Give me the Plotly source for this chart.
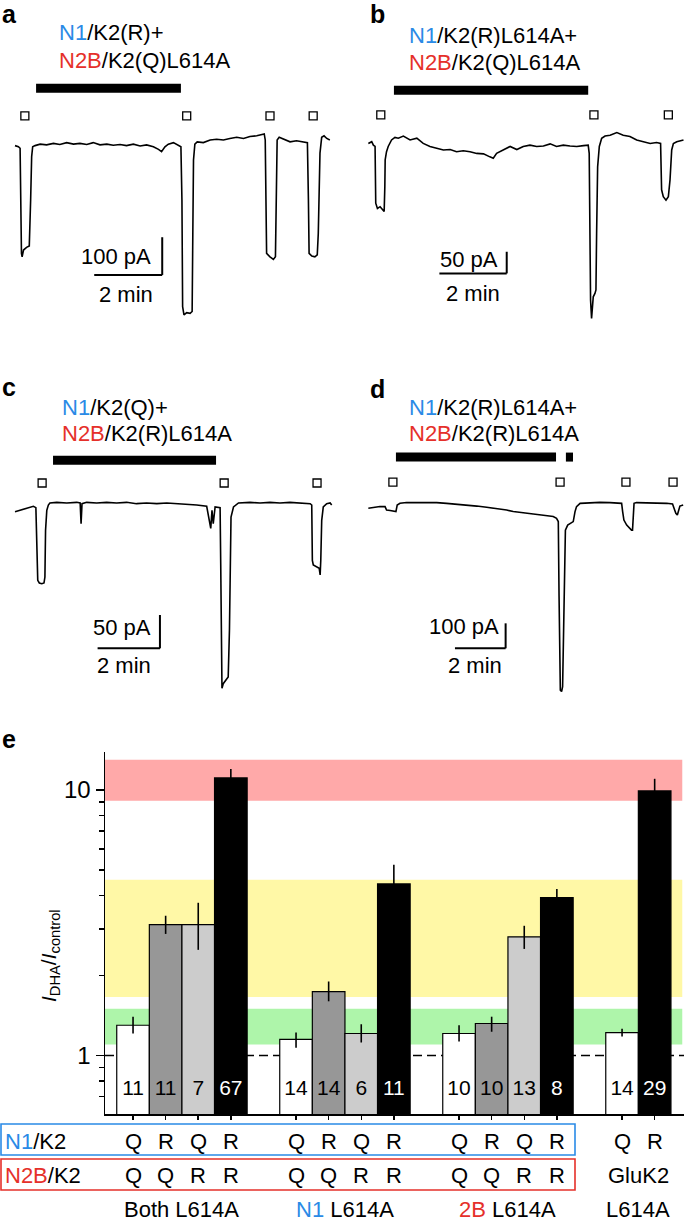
import math
import plotly.graph_objects as go

W, H = 685, 1222
FONT = "Liberation Sans, Arial, Helvetica, sans-serif"
BLUE = "#2a8ae6"
RED = "#e5302a"

# ---------------- Panel a (time in min, current in pA) ----------------
a_t = [0.00, 0.10, 0.15, 0.17, 0.19, 0.21, 0.25, 0.34, 0.42, 0.46,
       0.49, 0.52, 0.59, 0.74, 0.93, 1.13, 1.32, 1.52, 1.72, 1.91,
       2.11, 2.30, 2.50, 2.70, 2.89, 3.09, 3.28, 3.48, 3.68, 3.87,
       4.07, 4.22, 4.31, 4.41, 4.51, 4.66, 4.80, 4.88, 4.91, 4.93,
       4.97, 5.05, 5.15, 5.21, 5.23, 5.25, 5.29, 5.36, 5.54, 5.74,
       5.93, 6.13, 6.32, 6.52, 6.72, 6.91, 7.11, 7.25, 7.33, 7.36,
       7.38, 7.40, 7.50, 7.60, 7.66, 7.68, 7.71, 7.77, 7.89, 8.09,
       8.28, 8.48, 8.60, 8.63, 8.65, 8.73, 8.82, 8.89, 8.92, 8.97,
       9.02, 9.09, 9.17, 9.26]
a_i = [1, -2, -6, -232, -285, -294, -276, -269, -265, -143,
       -28, -2, 1, 5, 3, 7, 4, 9, 5, 7,
       4, 9, 3, 5, 2, 4, 1, 5, 0, 3,
       -2, -9, -15, -2, 5, 9, 3, -2, -143, -426,
       -448, -442, -444, -439, -232, -37, 5, 11, 9, 16,
       18, 16, 20, 23, 20, 25, 27, 29, 32, 16,
       -232, -285, -294, -301, -294, -143, 16, 23, 18, 11,
       14, 11, 9, -143, -285, -292, -294, -289, -232, -19,
       23, 27, 20, 16]
a_puffs = [0.29, 5.05, 7.50, 8.77]
a_drug = [(0.62, 4.88)]

# ---------------- Panel b ----------------
b_t = [0.01, 0.11, 0.16, 0.21, 0.23, 0.28, 0.36, 0.44, 0.48, 0.50,
       0.51, 0.55, 0.60, 0.70, 0.80, 0.90, 1.05, 1.25, 1.45, 1.64,
       1.84, 2.04, 2.24, 2.44, 2.63, 2.83, 3.03, 3.23, 3.43, 3.62,
       3.72, 3.82, 4.02, 4.22, 4.42, 4.61, 4.81, 5.01, 5.21, 5.41,
       5.60, 5.80, 6.00, 6.20, 6.40, 6.54, 6.57, 6.59, 6.61, 6.64,
       6.66, 6.69, 6.74, 6.77, 6.79, 6.82, 6.87, 6.94, 7.04, 7.19,
       7.39, 7.58, 7.78, 7.98, 8.18, 8.38, 8.57, 8.69, 8.72, 8.77,
       8.85, 8.92, 8.97, 9.02, 9.07, 9.17, 9.37]
b_i = [-1, 3, -5, -8, -139, -151, -147, -153, -158, -101,
       -39, -20, -8, 7, 13, 11, 16, 7, 11, -1,
       -8, -12, -16, -15, -20, -18, -20, -24, -25, -32,
       -35, -24, -16, -8, -15, -8, -5, -8, -7, -2,
       -8, -5, -7, -8, -6, -5, -24, -208, -362, -405,
       -385, -355, -347, -339, -208, -55, -8, 11, 16, 18,
       24, 18, 15, 7, 3, -1, 1, -1, -108, -124,
       -132, -124, -85, -16, -1, 3, 7]
b_puffs = [0.38, 6.71, 8.92]
b_drug = [(0.77, 6.54)]

# ---------------- Panel c ----------------
c_t = [0.00, 0.16, 0.32, 0.48, 0.59, 0.67, 0.70, 0.73, 0.78, 0.86,
       0.93, 0.96, 0.98, 1.02, 1.07, 1.12, 1.34, 1.66, 1.98, 2.09,
       2.12, 2.15, 2.30, 2.62, 2.94, 3.26, 3.58, 3.90, 4.22, 4.55,
       4.87, 5.19, 5.51, 5.83, 6.15, 6.24, 6.28, 6.32, 6.36, 6.42,
       6.52, 6.58, 6.60, 6.62, 6.64, 6.68, 6.77, 6.84, 6.88, 6.90,
       6.93, 7.01, 7.17, 7.54, 7.86, 8.18, 8.50, 8.82, 9.14, 9.47,
       9.52, 9.54, 9.57, 9.68, 9.76, 9.79, 9.81, 9.84, 9.89, 10.00,
       10.11, 10.16]
c_i = [-10, -8, -5, -3, -2, -4, -88, -113, -117, -118,
       -117, -108, -38, -8, 0, 3, 4, 3, 4, 3,
       -28, 2, 4, 3, 4, 3, 4, 2, 3, 2,
       3, 2, 2, 0, -2, -23, -35, -8, -28, -3,
       -4, -4, -88, -238, -275, -268, -263, -258, -188, -63,
       -18, -3, 3, 4, 3, 4, 3, 4, 3, 2,
       0, -83, -90, -93, -95, -105, -83, -23, -3, 2,
       3, 0]
c_puffs = [0.87, 6.71, 9.69]
c_drug = [(1.22, 6.45)]

# ---------------- Panel d ----------------
d_t = [0.00, 0.20, 0.46, 0.66, 0.72, 0.86, 0.99, 1.09, 1.14, 1.25,
       1.51, 1.91, 2.30, 2.70, 3.09, 3.49, 3.88, 4.28, 4.67, 5.07,
       5.46, 5.72, 6.12, 6.51, 6.91, 7.30, 7.43, 7.50, 7.53, 7.55,
       7.58, 7.63, 7.67, 7.71, 7.74, 7.78, 7.87, 7.96, 8.09, 8.16,
       8.22, 8.36, 8.75, 9.14, 9.54, 9.93, 10.00, 10.04, 10.09, 10.20,
       10.30, 10.39, 10.43, 10.46, 10.49, 10.59, 10.99, 11.38, 11.78, 12.01,
       12.07, 12.14, 12.20, 12.25, 12.30, 12.43]
d_i = [-20, -16, -13, -13, -27, -29, -33, -33, -7, 0,
       3, 4, 3, 3, 0, -3, -7, -11, -16, -21,
       -27, -33, -37, -43, -48, -53, -60, -73, -373, -640,
       -747, -753, -733, -507, -240, -107, -87, -80, -73, -33,
       -13, 0, 3, 4, 3, 3, 0, -33, -67, -87,
       -100, -107, -107, -27, 0, 3, 3, 3, 0, -3,
       -20, -40, -47, -27, -11, -7]
d_puffs = [0.97, 7.57, 10.17, 12.03]
d_drug = [(1.09, 7.41), (7.80, 8.08)]

# ---------------- Panel e (bar chart) ----------------
e_values = [1.30, 3.11, 3.11, 11.1, 1.15, 1.74, 1.21, 4.43, 1.21, 1.32, 2.80, 3.93, 1.22, 9.92]
e_err_plus = [0.10, 0.25, 0.65, 0.9, 0.07, 0.16, 0.10, 0.80, 0.09, 0.08, 0.28, 0.31, 0.04, 1.1]
e_err_minus = [0.09, 0.24, 0.61, 0.85, 0.08, 0.14, 0.09, 0.7, 0.08, 0.09, 0.28, 0.30, 0.04, 1.0]
e_n = [11, 11, 7, 67, 14, 14, 6, 11, 10, 10, 13, 8, 14, 29]
e_n1_row = ["Q", "R", "Q", "R", "Q", "R", "Q", "R", "Q", "R", "Q", "R", "Q", "R"]
e_n2b_row = ["Q", "Q", "R", "R", "Q", "Q", "R", "R", "Q", "Q", "R", "R"]
e_groups = ["Both L614A",
            '<span style="color:%s">N1</span> L614A' % BLUE,
            '<span style="color:%s">2B</span> L614A' % RED]
e_group_sizes = [4, 4, 4, 2]
e_bands = [(9.1, 13.0, "#ffa9a9"), (1.66, 4.59, "#fff8a6"), (1.10, 1.50, "#aef5aa")]
FILL_BY_SLOT = ["white", "#979797", "#cccccc", "black"]


def X(px):
    return px / W


def Y(py):
    return 1 - py / H


fig = go.Figure()
shapes = []
annotations = []
axes = {}

panels = [
    dict(s="", t=a_t, i=a_i, puffs=a_puffs, puff_level=80, drug=a_drug, drug_level=153,
         dom_x=(0, 340), dom_y=(0, 340), x0=15, ppm=34.0, y0=146, ppa=0.377,
         sb_t=4.33, sb_i=-342, amp=100, amp_lbl=(4.05, -292), dur_lbl=(3.25, -395), amp_txt="100 pA"),
    dict(s="2", t=b_t, i=b_i, puffs=b_puffs, puff_level=65, drug=b_drug, drug_level=122,
         dom_x=(340, 685), dom_y=(0, 340), x0=368, ppm=33.67, y0=143, ppa=0.4333,
         sb_t=4.12, sb_i=-301, amp=50, amp_lbl=(3.92, -268), dur_lbl=(3.13, -347), amp_txt="50 pA"),
    dict(s="3", t=c_t, i=c_i, puffs=c_puffs, puff_level=33, drug=c_drug, drug_level=67,
         dom_x=(0, 340), dom_y=(340, 700), x0=15, ppm=31.17, y0=505, ppa=0.6667,
         sb_t=4.65, sb_i=-215, amp=50, amp_lbl=(4.42, -183), dur_lbl=(3.50, -240), amp_txt="50 pA"),
    dict(s="4", t=d_t, i=d_i, puffs=d_puffs, puff_level=85, drug=d_drug, drug_level=185,
         dom_x=(340, 685), dom_y=(340, 700), x0=368.33, ppm=25.33, y0=503.33, ppa=0.25,
         sb_t=5.42, sb_i=-580, amp=100, amp_lbl=(5.22, -493), dur_lbl=(4.20, -647), amp_txt="100 pA"),
]

for p in panels:
    s = p["s"]
    xn, yn = "x" + s, "y" + s
    (dx0, dx1), (dy0, dy1) = p["dom_x"], p["dom_y"]
    axes["xaxis" + s] = dict(domain=[X(dx0), X(dx1)],
                             range=[(dx0 - p["x0"]) / p["ppm"], (dx1 - p["x0"]) / p["ppm"]],
                             visible=False, fixedrange=True, anchor=yn)
    axes["yaxis" + s] = dict(domain=[Y(dy1), Y(dy0)],
                             range=[(p["y0"] - dy1) / p["ppa"], (p["y0"] - dy0) / p["ppa"]],
                             visible=False, fixedrange=True, anchor=xn)
    fig.add_trace(go.Scatter(x=p["t"], y=p["i"], mode="lines",
                             line=dict(color="black", width=1.6),
                             xaxis=xn, yaxis=yn, hoverinfo="skip"))
    fig.add_trace(go.Scatter(x=p["puffs"], y=[p["puff_level"]] * len(p["puffs"]), mode="markers",
                             marker=dict(symbol="square-open", size=8, color="black",
                                         line=dict(width=1.3, color="black")),
                             xaxis=xn, yaxis=yn, hoverinfo="skip"))
    for (t0, t1) in p["drug"]:
        shapes.append(dict(type="line", xref=xn, yref=yn, x0=t0, x1=t1,
                           y0=p["drug_level"], y1=p["drug_level"],
                           line=dict(color="black", width=9)))
    # scale bars: 2 min horizontal, amp pA vertical
    shapes.append(dict(type="line", xref=xn, yref=yn, x0=p["sb_t"], x1=p["sb_t"],
                       y0=p["sb_i"], y1=p["sb_i"] + p["amp"], line=dict(color="black", width=2)))
    shapes.append(dict(type="line", xref=xn, yref=yn, x0=p["sb_t"] - 2, x1=p["sb_t"],
                       y0=p["sb_i"], y1=p["sb_i"], line=dict(color="black", width=2)))
    annotations.append(dict(xref=xn, yref=yn, x=p["amp_lbl"][0], y=p["amp_lbl"][1],
                            text=p["amp_txt"], showarrow=False, xanchor="right", yanchor="middle",
                            align="right", font=dict(size=22, color="black", family=FONT)))
    annotations.append(dict(xref=xn, yref=yn, x=p["dur_lbl"][0], y=p["dur_lbl"][1],
                            text="2 min", showarrow=False, xanchor="center", yanchor="middle",
                            font=dict(size=22, color="black", family=FONT)))

# panel letters and titles
letters = [("a", 0, 14), ("b", 368, 14), ("c", 0, 387), ("d", 368, 389), ("e", 0, 739)]
for txt, lx, ly in letters:
    annotations.append(dict(xref="paper", yref="paper", x=X(lx), y=Y(ly), text="<b>%s</b>" % txt,
                            showarrow=False, xanchor="left", yanchor="middle", align="left",
                            font=dict(size=25, color="black", family=FONT)))

titles = [
    (57, 33, 61, "K2(R)+", "K2(Q)L614A"),
    (407, 35, 62, "K2(R)L614A+", "K2(Q)L614A"),
    (60, 407, 433, "K2(Q)+", "K2(R)L614A"),
    (407, 407, 433, "K2(R)L614A+", "K2(R)L614A"),
]
for tx, ty1, ty2, l1, l2 in titles:
    annotations.append(dict(xref="paper", yref="paper", x=X(tx), y=Y(ty1),
                            text='<span style="color:%s">N1</span>/%s' % (BLUE, l1),
                            showarrow=False, xanchor="left", yanchor="middle", align="left",
                            font=dict(size=22, color="black", family=FONT)))
    annotations.append(dict(xref="paper", yref="paper", x=X(tx), y=Y(ty2),
                            text='<span style="color:%s">N2B</span>/%s' % (RED, l2),
                            showarrow=False, xanchor="left", yanchor="middle", align="left",
                            font=dict(size=22, color="black", family=FONT)))

# ---------------- bar chart ----------------
positions = []
fills = []
start = 0
for gsize in e_group_sizes:
    for k in range(gsize):
        positions.append(start + k)
        fills.append(FILL_BY_SLOT[k] if gsize == 4 else ["white", "black"][k])
    start += gsize + 1

axes["xaxis5"] = dict(domain=[X(105), X(684)], range=[-0.86, 16.9], anchor="y5",
                      showline=True, linecolor="black", linewidth=1.5, mirror=False,
                      ticks="outside", ticklen=4, tickwidth=1.5, tickcolor="black",
                      tickvals=positions, showticklabels=False, showgrid=False,
                      zeroline=False, fixedrange=True)
axes["yaxis5"] = dict(domain=[Y(1114.4), Y(752)], type="log",
                      range=[math.log10(0.6), 1.1431], anchor="x5",
                      showline=True, linecolor="black", linewidth=1.5,
                      ticks="outside", ticklen=8, tickwidth=1.5, tickcolor="black",
                      tickvals=[1, 10], ticktext=["1", "10"],
                      tickfont=dict(size=24, color="black", family=FONT),
                      minor=dict(tickvals=[0.7, 0.8, 0.9, 2, 3, 4, 5, 6, 7, 8, 9],
                                 ticks="outside", ticklen=5, tickwidth=1.5, tickcolor="black",
                                 showgrid=False),
                      showgrid=False, zeroline=False, fixedrange=True)

for lo, hi, col in e_bands:
    shapes.append(dict(type="rect", xref="x5 domain", yref="y5", x0=0, x1=0.997,
                       y0=lo, y1=hi, fillcolor=col,
                       line=dict(width=0), layer="below"))
shapes.append(dict(type="line", xref="x5 domain", yref="y5", x0=0, x1=1, y0=1, y1=1,
                   line=dict(color="black", width=1.5, dash="9px,5px"), layer="below"))

fig.add_trace(go.Bar(x=positions, y=e_values, width=1, xaxis="x5", yaxis="y5",
                     marker=dict(color=fills, line=dict(color="black", width=1.2)),
                     error_y=dict(type="data", symmetric=False, array=e_err_plus,
                                  arrayminus=e_err_minus, color="black", thickness=1.6, width=0),
                     hoverinfo="skip"))
fig.add_trace(go.Scatter(x=positions, y=[0.74] * len(positions), mode="text",
                         text=[str(n) for n in e_n],
                         textfont=dict(size=21, family=FONT,
                                       color=["white" if f == "black" else "black" for f in fills]),
                         xaxis="x5", yaxis="y5", hoverinfo="skip"))

annotations.append(dict(xref="paper", yref="paper", x=X(50), y=Y(955), textangle=-90,
                        text="<i>I</i><sub>DHA</sub>/<i>I</i><sub>control</sub>",
                        showarrow=False, xanchor="center", yanchor="middle",
                        font=dict(size=21, color="black", family=FONT)))

# table below the bar chart
ROW1, ROW2, ROW3 = 1141, 1175, 1209
shapes.append(dict(type="rect", xref="paper", yref="paper", x0=X(1), x1=X(575), y0=Y(1155), y1=Y(1124),
                   line=dict(color=BLUE, width=1.6), fillcolor="rgba(0,0,0,0)"))
shapes.append(dict(type="rect", xref="paper", yref="paper", x0=X(1), x1=X(575), y0=Y(1190), y1=Y(1159),
                   line=dict(color=RED, width=1.6), fillcolor="rgba(0,0,0,0)"))
annotations.append(dict(xref="paper", yref="paper", x=X(3), y=Y(ROW1),
                        text='<span style="color:%s">N1</span>/K2' % BLUE, showarrow=False,
                        xanchor="left", yanchor="middle", align="left",
                        font=dict(size=22, color="black", family=FONT)))
annotations.append(dict(xref="paper", yref="paper", x=X(3), y=Y(ROW2),
                        text='<span style="color:%s">N2B</span>/K2' % RED, showarrow=False,
                        xanchor="left", yanchor="middle", align="left",
                        font=dict(size=22, color="black", family=FONT)))
for pos, lab in zip(positions, e_n1_row):
    annotations.append(dict(xref="x5", yref="paper", x=pos, y=Y(ROW1), text=lab, showarrow=False,
                            xanchor="center", yanchor="middle",
                            font=dict(size=22, color="black", family=FONT)))
for pos, lab in zip(positions[:12], e_n2b_row):
    annotations.append(dict(xref="x5", yref="paper", x=pos, y=Y(ROW2), text=lab, showarrow=False,
                            xanchor="center", yanchor="middle",
                            font=dict(size=22, color="black", family=FONT)))
gl_center = (positions[12] + positions[13]) / 2
annotations.append(dict(xref="x5", yref="paper", x=gl_center, y=Y(ROW2), text="GluK2", showarrow=False,
                        xanchor="center", yanchor="middle", font=dict(size=22, color="black", family=FONT)))
annotations.append(dict(xref="x5", yref="paper", x=gl_center, y=Y(ROW3), text="L614A", showarrow=False,
                        xanchor="center", yanchor="middle", font=dict(size=22, color="black", family=FONT)))
for g, lab in enumerate(e_groups):
    cx = sum(positions[4 * g:4 * g + 4]) / 4
    annotations.append(dict(xref="x5", yref="paper", x=cx, y=Y(ROW3), text=lab, showarrow=False,
                            xanchor="center", yanchor="middle",
                            font=dict(size=22, color="black", family=FONT)))

fig.update_layout(width=W, height=H, autosize=False,
                  margin=dict(l=0, r=0, t=0, b=0, pad=0),
                  paper_bgcolor="white", plot_bgcolor="rgba(0,0,0,0)",
                  showlegend=False, bargap=0,
                  font=dict(family=FONT, color="black"),
                  shapes=shapes, annotations=annotations,
                  **axes)

fig.write_html("out.html", config={"displayModeBar": False, "staticPlot": True},
               post_script="document.body.style.margin='0';document.body.style.overflow='hidden';")
